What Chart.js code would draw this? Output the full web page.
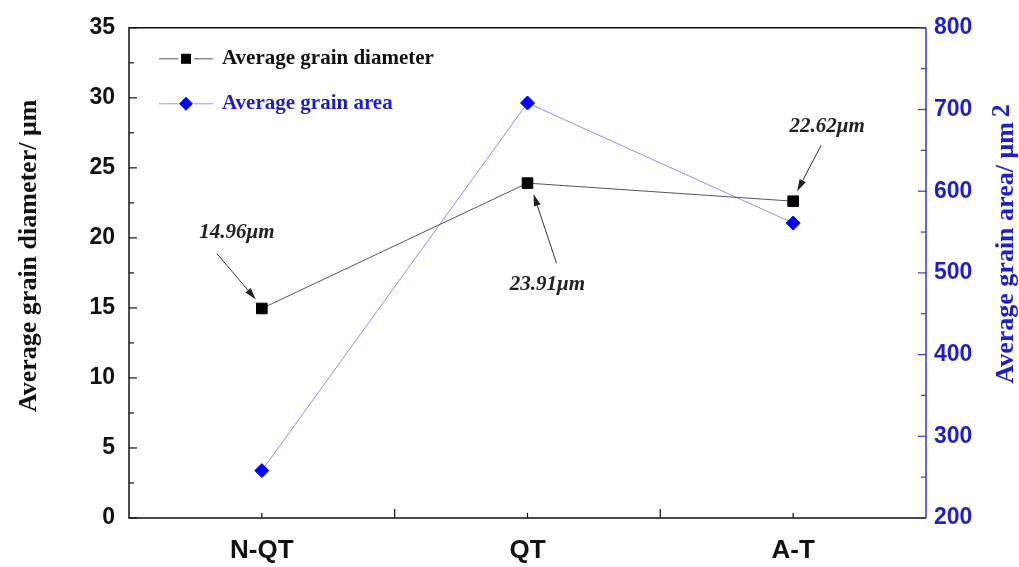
<!DOCTYPE html>
<html>
<head>
<meta charset="utf-8">
<title>Average grain diameter and area</title>
<script src="https://cdn.jsdelivr.net/npm/chart.js@4.4.1/dist/chart.umd.min.js"></script>
<style>
  html, body { margin: 0; padding: 0; background: #fff; }
  #wrap { width: 1019px; height: 567px; }
</style>
</head>
<body>
<div id="wrap"><canvas id="grainChart" width="1019" height="567"></canvas></div>
<script>
// --- data ---
const categories = ['N-QT', 'QT', 'A-T'];
const grainDiameter = [14.96, 23.91, 22.62];   // µm, left axis
const grainArea = [258, 708, 561];             // µm², right axis
const diameterNotes = ['14.96\u03bcm', '23.91\u03bcm', '22.62\u03bcm'];

const seriesNames = ['Average grain diameter', 'Average grain area'];
const leftTitle = 'Average grain diameter/ \u03bcm';
const rightTitle = 'Average grain area/ \u03bcm';

const BLUE = '#0000ff';
const BLUE_TEXT = '#1f1fc8';
const SANS = "'Liberation Sans', Arial, sans-serif";
const SERIF = "'Liberation Serif', 'Times New Roman', serif";

// pixel offsets for the callout arrows, relative to each diameter point
const calloutLayout = [
    { tx: -25, ty: -76, x0: -45, y0: -55, x1: -6, y1: -9 },
    { tx: 20, ty: 101, x0: 29, y0: 80, x1: 6, y1: 11 },
    { tx: 34, ty: -75, x0: 28, y0: -56, x1: 4, y1: -10 }
];

// --- frame + inward ticks, drawn like the original plotting software ---
const framePlugin = {
    id: 'frame',
    beforeDatasetsDraw(chart) {
        const { ctx, chartArea: a, scales } = chart;
        ctx.save();
        ctx.lineWidth = 1.5;
        ctx.strokeStyle = '#111';
        ctx.beginPath();
        ctx.moveTo(a.right, a.top);
        ctx.lineTo(a.left, a.top);
        ctx.lineTo(a.left, a.bottom);
        ctx.lineTo(a.right, a.bottom);
        ctx.stroke();

        // left ticks
        ctx.lineWidth = 1.2;
        for (let v = 0; v <= 35; v += 2.5) {
            const y = scales.y.getPixelForValue(v);
            const len = v % 5 === 0 ? 8 : 5;
            ctx.beginPath();
            ctx.moveTo(a.left, y);
            ctx.lineTo(a.left + len, y);
            ctx.stroke();
        }
        // bottom ticks: short at categories, long between them
        const xs = scales.x;
        categories.forEach((c, i) => {
            const px = xs.getPixelForValue(i);
            ctx.beginPath();
            ctx.moveTo(px, a.bottom);
            ctx.lineTo(px, a.bottom - 5);
            ctx.stroke();
            if (i < categories.length - 1) {
                const mid = (px + xs.getPixelForValue(i + 1)) / 2;
                ctx.beginPath();
                ctx.moveTo(mid, a.bottom);
                ctx.lineTo(mid, a.bottom - 9);
                ctx.stroke();
            }
        });

        // right axis in blue
        ctx.strokeStyle = '#3535d0';
        ctx.lineWidth = 1.5;
        ctx.beginPath();
        ctx.moveTo(a.right, a.top);
        ctx.lineTo(a.right, a.bottom);
        ctx.stroke();
        ctx.lineWidth = 1.2;
        for (let v = 200; v <= 800; v += 50) {
            const y = scales.y1.getPixelForValue(v);
            const len = v % 100 === 0 ? 8 : 5;
            ctx.beginPath();
            ctx.moveTo(a.right, y);
            ctx.lineTo(a.right - len, y);
            ctx.stroke();
        }
        ctx.restore();
    }
};

// --- axis titles (right one reads bottom-to-top, with superscript 2) ---
const titlePlugin = {
    id: 'titles',
    afterDraw(chart) {
        const { ctx, chartArea: a } = chart;
        const midY = (a.top + a.bottom) / 2;
        ctx.save();
        ctx.font = `bold 26px ${SERIF}`;
        ctx.textAlign = 'center';
        ctx.textBaseline = 'middle';
        ctx.fillStyle = '#111';
        ctx.translate(29, midY - 17);
        ctx.rotate(-Math.PI / 2);
        ctx.fillText(leftTitle, 0, 0);
        ctx.restore();

        ctx.save();
        ctx.font = `bold 26px ${SERIF}`;
        ctx.fillStyle = BLUE_TEXT;
        ctx.textBaseline = 'middle';
        ctx.textAlign = 'left';
        const w = ctx.measureText(rightTitle).width;
        ctx.translate(1006, midY - 20);
        ctx.rotate(-Math.PI / 2);
        ctx.fillText(rightTitle, -w / 2, 0);
        ctx.fillText('2', w / 2 + 5, -4);
        ctx.restore();
    }
};

// --- legend inside the plot, top left ---
const legendPlugin = {
    id: 'innerLegend',
    afterDatasetsDraw(chart) {
        const { ctx, chartArea: a } = chart;
        ctx.save();
        ctx.font = `bold 21px ${SERIF}`;
        ctx.textBaseline = 'middle';
        chart.data.datasets.forEach((ds, i) => {
            const y = a.top + 31 + i * 45;
            const x0 = a.left + 30;
            const cx = x0 + 27;
            ctx.strokeStyle = ds.borderColor;
            ctx.lineWidth = 1;
            ctx.beginPath();
            ctx.moveTo(x0, y);
            ctx.lineTo(cx - 8, y);
            ctx.moveTo(cx + 8, y);
            ctx.lineTo(x0 + 54, y);
            ctx.stroke();
            ctx.fillStyle = ds.pointBackgroundColor;
            if (ds.pointStyle === 'rectRot') {
                ctx.beginPath();
                ctx.moveTo(cx, y - 7);
                ctx.lineTo(cx + 7, y);
                ctx.lineTo(cx, y + 7);
                ctx.lineTo(cx - 7, y);
                ctx.closePath();
                ctx.fill();
            } else {
                ctx.fillRect(cx - 5, y - 5, 10, 10);
            }
            ctx.fillStyle = i === 0 ? '#111' : BLUE_TEXT;
            ctx.fillText(ds.label, x0 + 63, y);
        });
        ctx.restore();
    }
};

// --- value callouts with arrows ---
function drawArrow(ctx, x0, y0, x1, y1) {
    const ang = Math.atan2(y1 - y0, x1 - x0);
    const hl = 12, hw = 3.5;
    ctx.beginPath();
    ctx.moveTo(x0, y0);
    ctx.lineTo(x1 - hl * Math.cos(ang), y1 - hl * Math.sin(ang));
    ctx.stroke();
    ctx.beginPath();
    ctx.moveTo(x1, y1);
    ctx.lineTo(x1 - hl * Math.cos(ang) + hw * Math.sin(ang), y1 - hl * Math.sin(ang) - hw * Math.cos(ang));
    ctx.lineTo(x1 - hl * Math.cos(ang) - hw * Math.sin(ang), y1 - hl * Math.sin(ang) + hw * Math.cos(ang));
    ctx.closePath();
    ctx.fill();
}

const calloutPlugin = {
    id: 'callouts',
    afterDatasetsDraw(chart) {
        const { ctx } = chart;
        const meta = chart.getDatasetMeta(0);
        ctx.save();
        ctx.font = `italic bold 21px ${SERIF}`;
        ctx.textAlign = 'center';
        ctx.textBaseline = 'middle';
        ctx.strokeStyle = '#333';
        ctx.fillStyle = '#222';
        ctx.lineWidth = 1;
        meta.data.forEach((pt, i) => {
            const L = calloutLayout[i];
            ctx.fillText(diameterNotes[i], pt.x + L.tx, pt.y + L.ty);
            drawArrow(ctx, pt.x + L.x0, pt.y + L.y0, pt.x + L.x1, pt.y + L.y1);
        });
        ctx.restore();
    }
};

const xTickFont = { family: SANS, size: 26, weight: 'bold' };
const yTickFont = { family: SANS, size: 23, weight: 'bold' };

new Chart(document.getElementById('grainChart'), {
    type: 'line',
    data: {
        labels: categories,
        datasets: [
            {
                label: seriesNames[0],
                data: grainDiameter,
                yAxisID: 'y',
                borderColor: '#555',
                borderWidth: 1,
                pointStyle: 'rect',
                pointRadius: 7.5,
                pointBackgroundColor: '#000',
                pointBorderColor: '#000',
                tension: 0
            },
            {
                label: seriesNames[1],
                data: grainArea,
                yAxisID: 'y1',
                borderColor: '#8f8fff',
                borderWidth: 1,
                pointStyle: 'rectRot',
                pointRadius: 7,
                pointBackgroundColor: BLUE,
                pointBorderColor: BLUE,
                tension: 0
            }
        ]
    },
    options: {
        responsive: false,
        animation: false,
        devicePixelRatio: 1,
        layout: { padding: { top: 25, left: 0, right: 0, bottom: 0 } },
        plugins: { legend: { display: false }, tooltip: { enabled: false } },
        scales: {
            x: {
                type: 'category',
                offset: true,
                grid: { display: false, drawTicks: false },
                border: { display: false },
                ticks: { font: xTickFont, color: '#111', padding: 17 },
                afterFit: s => { s.height = 49; }
            },
            y: {
                position: 'left',
                min: 0,
                max: 35,
                grid: { display: false, drawTicks: false },
                border: { display: false },
                ticks: { stepSize: 5, font: yTickFont, color: '#111', padding: 14 },
                afterFit: s => { s.width = 129; }
            },
            y1: {
                position: 'right',
                min: 200,
                max: 800,
                grid: { display: false, drawTicks: false },
                border: { display: false },
                ticks: { stepSize: 100, font: yTickFont, color: BLUE_TEXT, padding: 8 },
                afterFit: s => { s.width = 93; }
            }
        }
    },
    plugins: [framePlugin, titlePlugin, legendPlugin, calloutPlugin]
});
</script>
</body>
</html>
